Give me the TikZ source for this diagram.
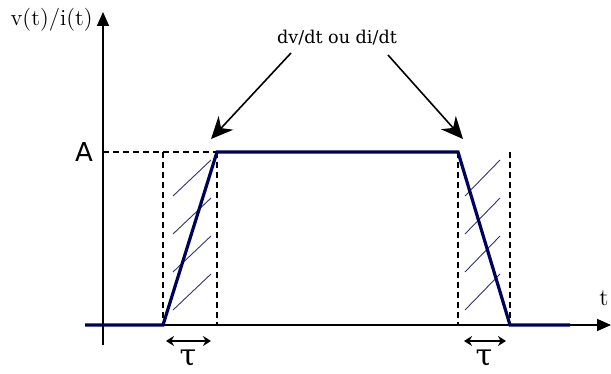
\documentclass[tikz,border=0pt]{standalone}
\usepackage{fontspec}
\newfontfamily\serifdv{DejaVu Serif}
\newfontfamily\sansdv{DejaVu Sans}
\usetikzlibrary{arrows.meta, positioning}

\begin{document}
\begin{tikzpicture}[
    x=0.5pt, y=-0.5pt,
    axis/.style={thick, -{Triangle[length=7pt, width=6pt]}},
    signal/.style={line width=1.6pt, draw=blue!35!black, line join=miter},
    guide/.style={thick, dash pattern=on 3pt off 2pt},
    hatch/.style={draw=blue!30!black!80, line width=0.45pt},
    pointer/.style={thick, -{Stealth[length=11pt, width=10pt]}},
    span/.style={thick, {Stealth[length=4pt, width=5pt]}-{Stealth[length=4pt, width=5pt]}},
    lbl/.style={inner sep=0pt}
]
    \useasboundingbox (0,0) rectangle (611,374);

    % axes
    \coordinate (o) at (103,325);
    \coordinate (ybot) at (103,345);
    \coordinate (ytop) at (103,12);
    \coordinate (xleft) at (85,325);
    \coordinate (xright) at (611,325);
    \draw[axis] (ybot) -- (ytop);
    \draw[axis] (xleft) -- (xright);
    \node[lbl, anchor=east, font=\fontsize{11.5}{12}\selectfont] (ylab) at (93,20) {v(t)/i(t)};
    \node[lbl, font=\fontsize{12}{12}\selectfont] (tlab) at (604,298) {t};

    % corners of the pulse
    \coordinate (s0) at (85,325);
    \coordinate (r0) at (163,325);
    \coordinate (r1) at (217,152);
    \coordinate (f0) at (458,152);
    \coordinate (f1) at (510,325);
    \coordinate (s1) at (570,325);

    % level A
    \node[lbl, font=\sansdv\fontsize{13}{13}\selectfont] (alab) at (84,152) {A};
    \draw[guide] (o |- r1) -- (r1);

    % dashed limits of the edges
    \draw[guide] (r0 |- r1) -- (r0);
    \draw[guide] (r1) -- (r1 |- o);
    \draw[guide] (f0) -- (f0 |- o);
    \draw[guide] (f1 |- f0) -- (f1);

    % hatching
    \foreach \dy in {0,38,76,114} {
        \draw[hatch] (173,196+\dy) -- (211,160+\dy);
        \draw[hatch] (465,196+\dy) -- (500,160+\dy);
    }

    \draw[signal] (s0) -- (r0) -- (r1) -- (f0) -- (f1) -- (s1);

    % slope label
    \node[lbl, font=\serifdv\fontsize{8.8}{10}\selectfont] (slope) at (337,38) {dv/dt ou di/dt};
    \coordinate (pl) at (291,53);
    \coordinate (pr) at (388,55);
    \draw[pointer] (pl) -- (211,139);
    \draw[pointer] (pr) -- (463,139);

    % rise and fall times
    \coordinate (ta) at (166,341);
    \coordinate (tb) at (211,341);
    \coordinate (tc) at (464,341);
    \coordinate (td) at (506,341);
    \draw[span] (ta) -- (tb);
    \draw[span] (tc) -- (td);
    \node[lbl, font=\serifdv\fontsize{15}{15}\selectfont] (tau1) at (188,358) {τ};
    \node[lbl, font=\serifdv\fontsize{15}{15}\selectfont] (tau2) at (484,358) {τ};
\end{tikzpicture}
\end{document}
